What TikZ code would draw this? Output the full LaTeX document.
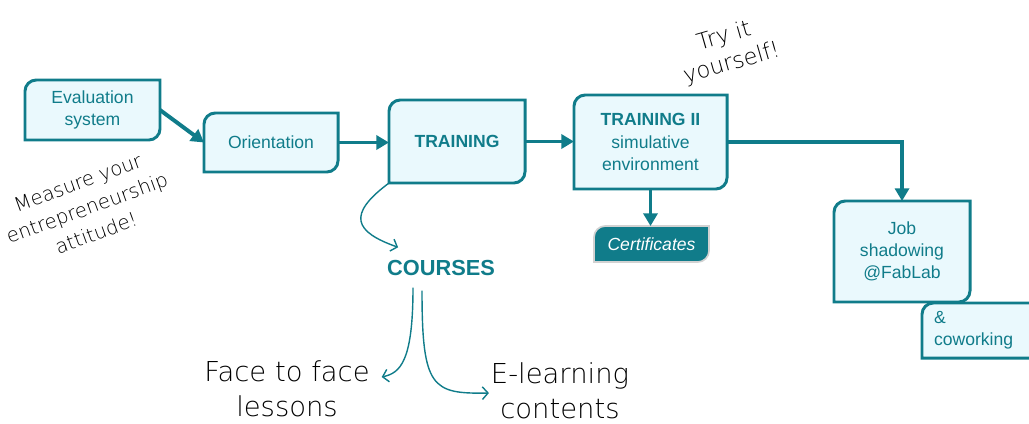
\documentclass[tikz,border=0pt]{standalone}
\usepackage{fontspec}
\setmainfont{Liberation Sans}
\newfontfamily\handfont{DejaVu Sans ExtraLight}
\usetikzlibrary{arrows.meta,backgrounds}

\definecolor{petrol}{RGB}{16,124,138}
\definecolor{petrolfill}{RGB}{234,249,253}

\tikzset{
  boxline/.style={draw=petrol, fill=petrolfill, line width=2.1pt},
  certline/.style={draw=gray!35, fill=petrol, line width=1.2pt},
  boxtext/.style={text=petrol, align=center, inner sep=0, outer sep=0,
    font=\fontsize{12.5}{15.5}\selectfont},
  flow/.style={draw=petrol, line width=2.8pt, -{Triangle[length=9pt,width=10pt]}},
  curl/.style={draw=petrol, line width=1pt, -{Straight Barb[length=4pt,width=9pt]}},
  hand/.style={align=center, inner sep=0, outer sep=0},
}

% box with the top left and bottom right corners rounded
\newcommand{\diagbox}[2][boxline]{%
  \filldraw[#1] (#2.south west) -- ([yshift=-8pt]#2.north west)
    arc[start angle=180, end angle=90, radius=8pt] -- (#2.north east)
    -- ([yshift=8pt]#2.south east)
    arc[start angle=0, end angle=-90, radius=8pt] -- cycle;}

\begin{document}
\begin{tikzpicture}[x=0.025cm, y=-0.025cm]
  \clip (0,0) rectangle (1029,423);

  % boxes
  \node[boxtext, minimum width=3.375cm, minimum height=1.5cm] (eval) at (92.5,110) {Evaluation\\system};
  \node[boxtext, minimum width=3.35cm, minimum height=1.475cm] (orient) at (271,142.5) {Orientation};
  \node[boxtext, minimum width=3.4cm, minimum height=2.075cm] (train) at (457,141.5) {\textbf{TRAINING}};
  \node[boxtext, minimum width=3.825cm, minimum height=2.35cm,
    font=\fontsize{12.5}{16}\selectfont] (trainii) at (650.5,142) {\textbf{TRAINING II}\\simulative\\environment};
  \node[boxtext, text=white, minimum width=2.875cm, minimum height=0.9cm,
    font=\fontsize{12.5}{15.5}\selectfont\itshape] (cert) at (651.5,244) {Certificates};
  \node[boxtext, minimum width=3.4cm, minimum height=2.525cm] (job) at (902,251.5) {Job\\shadowing\\@FabLab};
  \node[boxtext, align=left, anchor=north west, text width=2.5cm, inner xsep=0.3cm,
    minimum height=1.375cm] (cowork) at (922,303) {\&\\coworking};

  % texts
  \node[text=petrol, inner sep=0, outer sep=0,
    font=\bfseries\fontsize{15.5}{18}\selectfont] (courses) at (441,268) {COURSES};
  \node[hand, font=\handfont\fontsize{19.5}{25}\selectfont] (face) at (287,389) {Face to face\\lessons};
  \node[hand, font=\handfont\fontsize{19.5}{25}\selectfont] (elearn) at (560,391) {E-learning\\contents};
  \node[hand, rotate=20, font=\handfont\fontsize{14}{19}\selectfont] (measure) at (87,208) {Measure your\\entrepreneurship\\attitude!};
  \node[hand, rotate=16, font=\handfont\fontsize{16}{20}\selectfont] (tryit) at (728,50) {Try it\\yourself!};

  \begin{scope}[on background layer]
    \diagbox{eval}
    \diagbox{orient}
    \diagbox{train}
    \diagbox{trainii}
    \diagbox[certline]{cert}
    \diagbox{job}
    \diagbox{cowork}
  \end{scope}

  % flow
  \draw[flow] (eval.east) -- (orient.west);
  \draw[flow] (orient.east) -- (orient.east -| train.west);
  \draw[flow] (train.east) -- (train.east -| trainii.west);
  \draw[flow] (trainii.south) -- (trainii.south |- cert.north);
  \draw[flow] (trainii.east) -| (job.north);

  % courses
  \draw[curl] (train.south west) .. controls (346,215) and (355,232) .. ([xshift=0.275cm, yshift=0.325cm]courses.north west);
  \draw[curl] ([xshift=-0.7cm, yshift=-0.3cm]courses.south) .. controls (413,362) and (400,373) .. ([xshift=0.3cm, yshift=0.3cm]face.east);
  \draw[curl] ([xshift=-0.475cm, yshift=-0.375cm]courses.south) .. controls (422,388) and (432,394) .. ([xshift=-0.05cm, yshift=-0.05cm]elearn.west);
\end{tikzpicture}
\end{document}
